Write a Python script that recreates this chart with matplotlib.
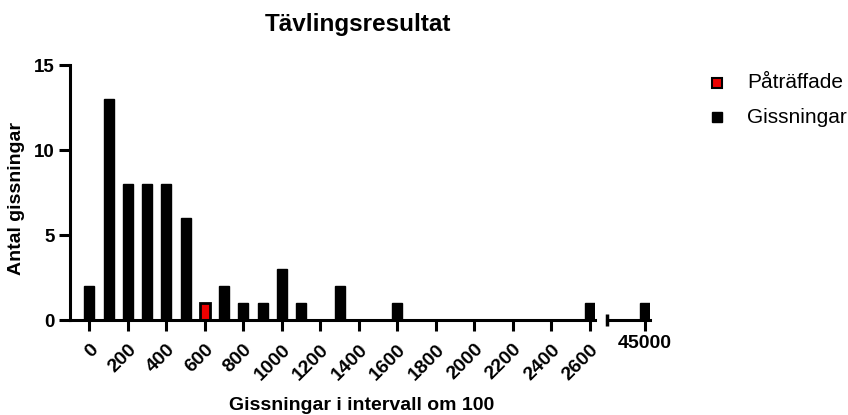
import matplotlib.pyplot as plt
import numpy as np

plt.rcParams['font.family'] = ['Liberation Sans', 'DejaVu Sans']

# data
intervall = [0, 100, 200, 300, 400, 500, 600, 700, 800, 900, 1000, 1100, 1200, 1300,
             1400, 1500, 1600, 1700, 1800, 1900, 2000, 2100, 2200, 2300, 2400, 2500, 2600]
gissningar = [2, 13, 8, 8, 8, 6, 0, 2, 1, 1, 3, 1, 0, 2,
              0, 0, 1, 0, 0, 0, 0, 0, 0, 0, 0, 0, 1]
pataffade_x = [600]
pataffade_y = [1]
extra_x = [45000]
extra_y = [1]
tick_pos = list(range(0, 2601, 200))
tick_lab = [str(t) for t in tick_pos]

W, H = 848, 415
fig = plt.figure(figsize=(W / 100, H / 100), dpi=100)

y0, y1 = 320, 65
ax1 = fig.add_axes([70 / W, (H - y0) / H, 525 / W, (y0 - y1) / H])
ax2 = fig.add_axes([607 / W, (H - y0) / H, 43 / W, (y0 - y1) / H])

bw = 52
lw_sp = 2.2
ax1.bar(intervall, gissningar, width=bw, color='black', edgecolor='black', linewidth=1)
ax1.bar(pataffade_x, pataffade_y, width=bw, color='#ee0000', edgecolor='black', linewidth=2)
ax2.bar(extra_x, extra_y, width=bw, color='black', edgecolor='black', linewidth=1)

ax1.set_xlim(-100, 2626)
ax2.set_xlim(44803, 45026)
for ax in (ax1, ax2):
    ax.set_ylim(0, 15)
    ax.spines['top'].set_visible(False)
    ax.spines['right'].set_visible(False)
    ax.spines['bottom'].set_linewidth(lw_sp)
    ax.spines['left'].set_linewidth(lw_sp)
    ax.tick_params(width=lw_sp, length=8, pad=3)

ax1.set_yticks([0, 5, 10, 15])
ax1.set_yticklabels(['0', '5', '10', '15'], fontweight='bold', fontsize=13.5)
ax1.tick_params(axis='x', pad=7)
ax1.set_xticks(tick_pos)
ax1.set_xticklabels(tick_lab, rotation=45, ha='right', va='top', rotation_mode='anchor',
                    fontweight='bold', fontsize=14)

ax2.spines['left'].set_visible(False)
ax2.set_yticks([])
ax2.set_xticks(extra_x)
ax2.set_xticklabels(['45000'], fontweight='bold', fontsize=14)
ax2.plot([44803], [0], marker='|', markersize=9, markeredgewidth=2.5, color='black', clip_on=False)

fig.text(358 / W, 1 - 24 / H, 'Tävlingsresultat', ha='center', va='center',
         fontweight='bold', fontsize=17.5)
fig.text(362 / W, 1 - 405 / H, 'Gissningar i intervall om 100', ha='center', va='center',
         fontweight='bold', fontsize=14)
fig.text(17 / W, 1 - 198 / H, 'Antal gissningar', ha='center', va='center',
         rotation=90, fontweight='bold', fontsize=14)

# legend
lx = 717
fig.lines.append(plt.Line2D([lx / W], [1 - 83 / H], marker='s', markersize=7,
                            markerfacecolor='#ee0000', markeredgecolor='black',
                            markeredgewidth=1.5, transform=fig.transFigure))
fig.lines.append(plt.Line2D([lx / W], [1 - 117 / H], marker='s', markersize=7,
                            markerfacecolor='black', markeredgecolor='black',
                            transform=fig.transFigure))
fig.text(747 / W, 1 - 83 / H, 'Påträffade', ha='left', va='center', fontsize=15)
fig.text(747 / W, 1 - 117 / H, 'Gissningar', ha='left', va='center', fontsize=15)

fig.savefig('out.png', dpi=100)
